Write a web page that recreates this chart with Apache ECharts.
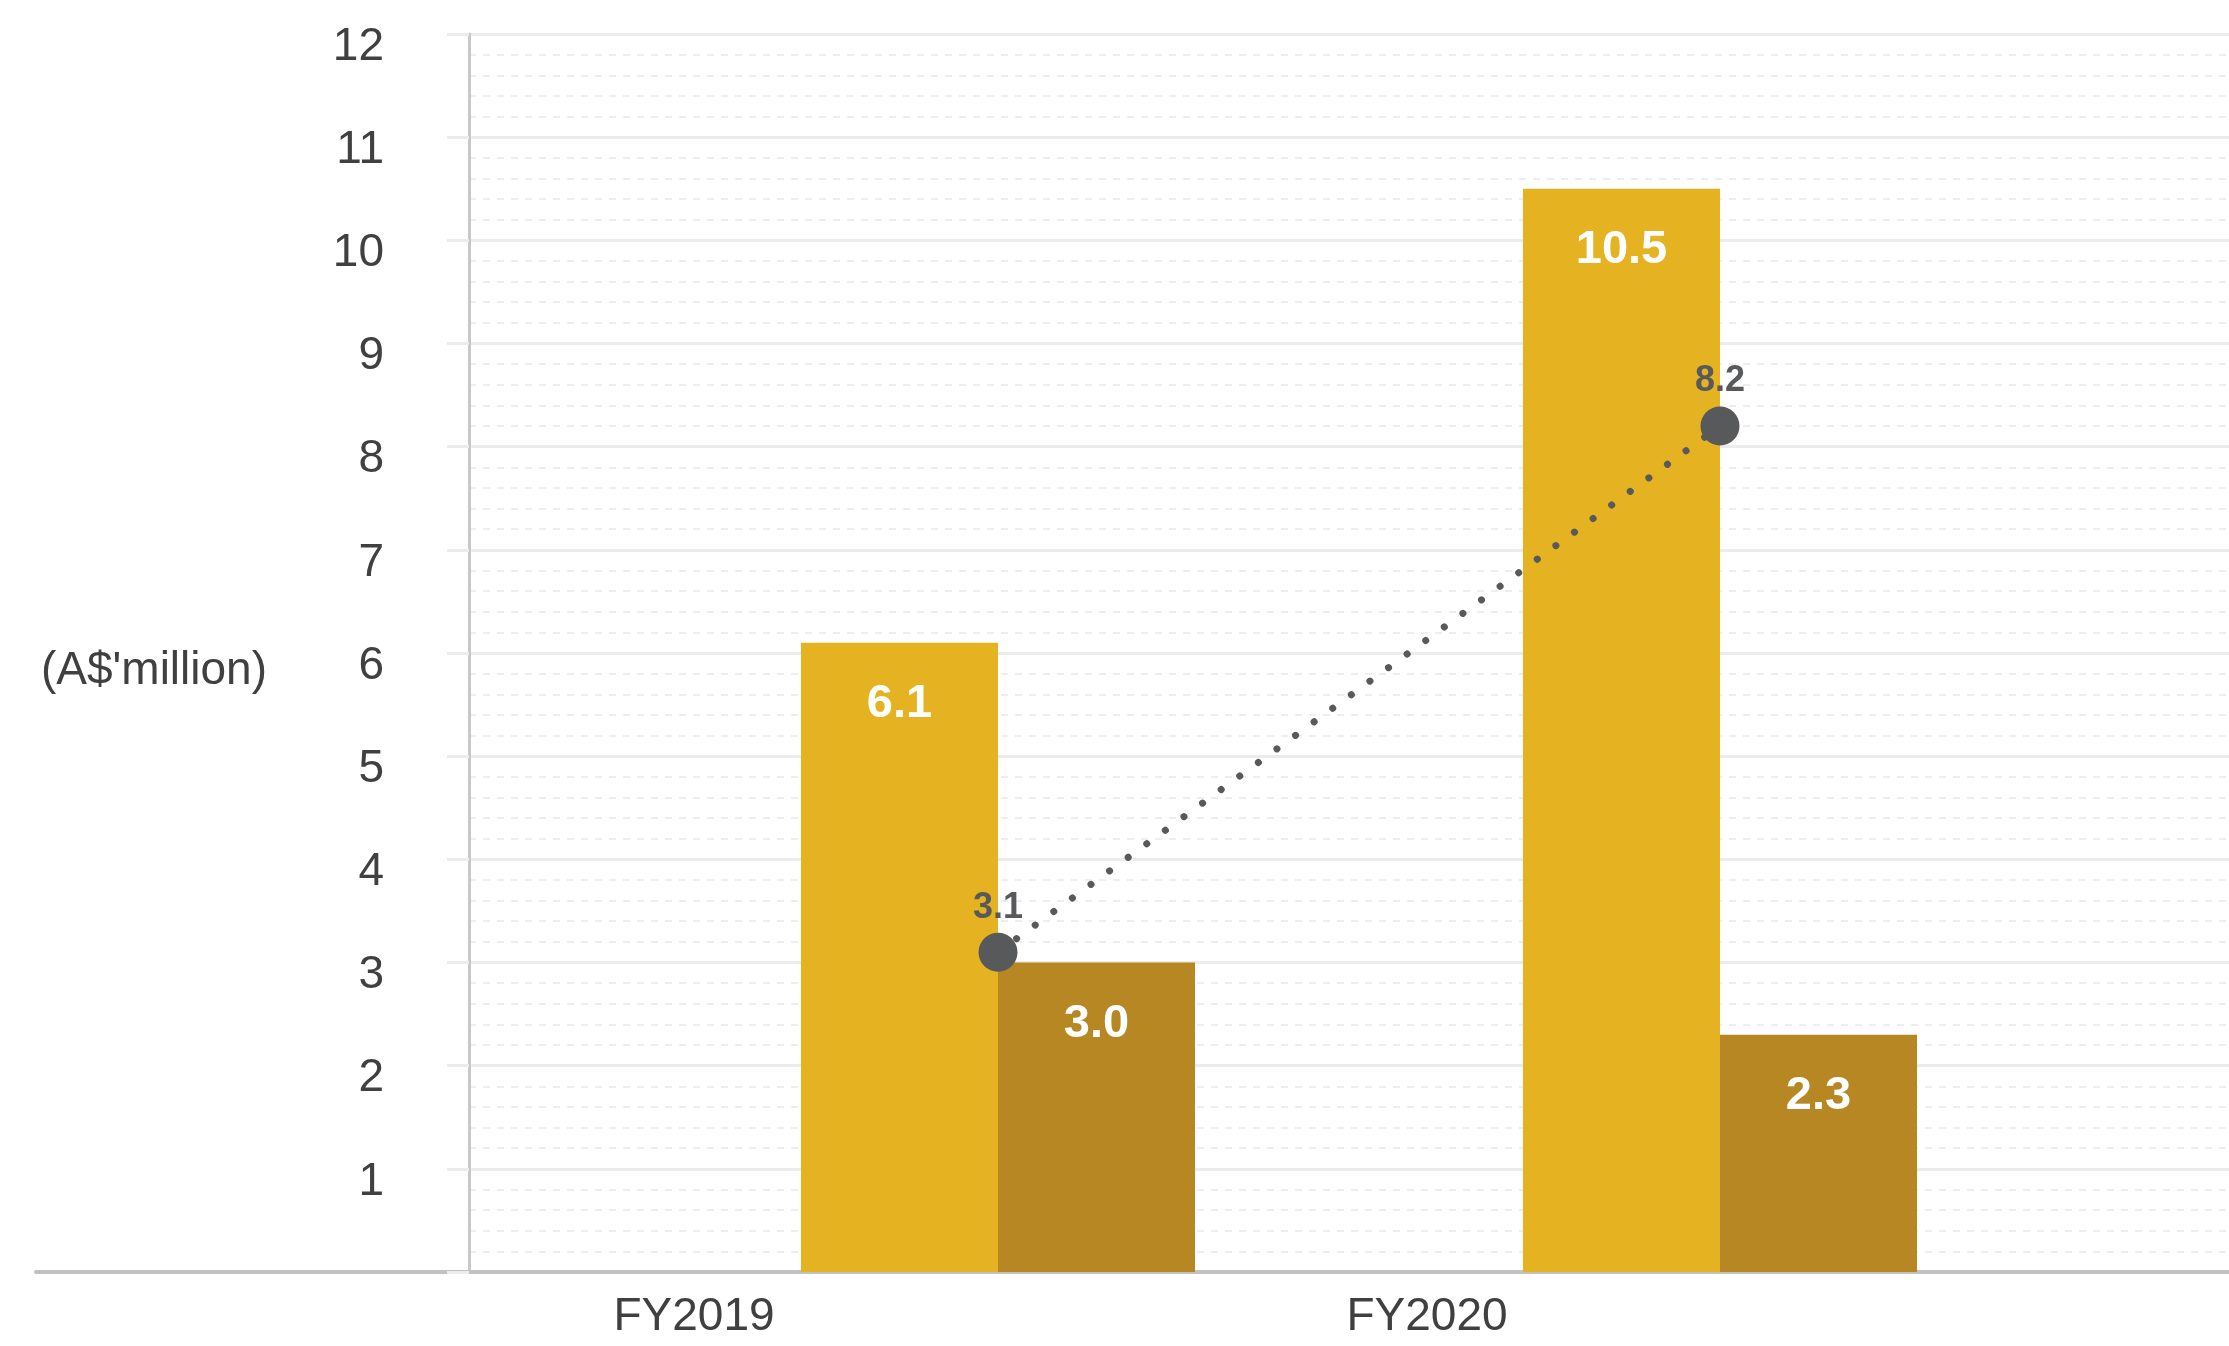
<!DOCTYPE html>
<html><head><meta charset="utf-8">
<script src="https://cdn.jsdelivr.net/npm/echarts@6/dist/echarts.min.js"></script>
<style>html,body{margin:0;padding:0;background:#fff}#c{width:2229px;height:1346px}</style>
</head><body><div id="c"></div>
<script>
const categories = ['FY2019', 'FY2020'];
const yellowValues = [6.1, 10.5];
const brownValues = [3.0, 2.3];
const lineValues = [3.1, 8.2];
const yTicks = [0, 1, 2, 3, 4, 5, 6, 7, 8, 9, 10, 11, 12];
const yAxisName = "(A$'million)";

const FONT = '"Liberation Sans", Arial, sans-serif';
const TXT = '#404040';
const chart = echarts.init(document.getElementById('c'), null, {renderer: 'canvas'});
const yMin = yTicks[0], yMax = yTicks[yTicks.length - 1];

chart.setOption({
  animation: false,
  backgroundColor: '#ffffff',
  grid: [
    {left: 469, right: 0, top: 34, bottom: 74},
    {left: 637, width: 1444, top: 34, bottom: 74},
    {left: 36, right: 0, top: 34, bottom: 74}
  ],
  xAxis: [
    {gridIndex: 0, type: 'value', show: false, min: 0, max: 1},
    {gridIndex: 1, type: 'category', data: categories,
      axisLine: {show: false}, axisTick: {show: false},
      axisLabel: {color: TXT, fontSize: 46, fontFamily: FONT, margin: 22,
        formatter: (v, i) => '{a' + i + '|' + v + '}',
        rich: {
          a0: {color: TXT, fontSize: 46, fontFamily: FONT, padding: [0, 608, 0, 0]},
          a1: {color: TXT, fontSize: 46, fontFamily: FONT, padding: [0, 586, 0, 0]}
        }}},
    {gridIndex: 2, type: 'value', min: 0, max: 1, axisLabel: {show: false}, axisTick: {show: false},
      splitLine: {show: false},
      axisLine: {show: true, lineStyle: {color: '#c2c2c2', width: 4}}}
  ],
  yAxis: [
    {gridIndex: 0, type: 'value', min: yMin, max: yMax, interval: 1,
      name: yAxisName, nameLocation: 'middle', nameRotate: 0, nameGap: 202,
      nameTextStyle: {color: TXT, fontSize: 46, fontFamily: FONT, align: 'right',
        verticalAlign: 'top', lineHeight: 36},
      axisLine: {show: true, lineStyle: {color: '#c8c8c8', width: 3}},
      axisTick: {show: true, length: 22, lineStyle: {color: '#ececec', width: 3}},
      axisLabel: {color: TXT, fontSize: 46, fontFamily: FONT, margin: 85,
        verticalAlign: 'top', lineHeight: 26,
        formatter: v => v === 0 ? '' : String(v)},
      splitLine: {show: true, lineStyle: {color: '#ececec', width: 3}},
      minorTick: {show: false, splitNumber: 5},
      minorSplitLine: {show: true, lineStyle: {color: '#eeeeee', width: 2, type: [7, 7]}}
    },
    {gridIndex: 1, type: 'value', min: yMin, max: yMax, show: false},
    {gridIndex: 2, type: 'value', min: yMin, max: yMax, show: false}
  ],
  series: [
    {type: 'bar', xAxisIndex: 1, yAxisIndex: 1, data: yellowValues, barWidth: 197, barGap: '0%',
      itemStyle: {color: '#e5b222'},
      label: {show: true, position: 'insideTop', distance: 38, color: '#ffffff', fontSize: 47,
        fontWeight: 'bold', fontFamily: FONT, formatter: p => p.value.toFixed(1)}},
    {type: 'bar', xAxisIndex: 1, yAxisIndex: 1, data: brownValues, barWidth: 197, barGap: '0%',
      itemStyle: {color: '#b78724'},
      label: {show: true, position: 'insideTop', distance: 38, color: '#ffffff', fontSize: 47,
        fontWeight: 'bold', fontFamily: FONT, formatter: p => p.value.toFixed(1)}},
    {type: 'line', xAxisIndex: 1, yAxisIndex: 1, data: lineValues, symbol: 'circle', symbolSize: 39,
      itemStyle: {color: '#58595b'},
      lineStyle: {color: '#58595b', width: 7, type: [0.01, 23], cap: 'round'},
      label: {show: true, position: 'top', distance: 7, color: '#58595b', fontSize: 36,
        fontWeight: 'bold', fontFamily: FONT, formatter: p => p.value.toFixed(1)},
      z: 5}
  ]
});
</script></body></html>
